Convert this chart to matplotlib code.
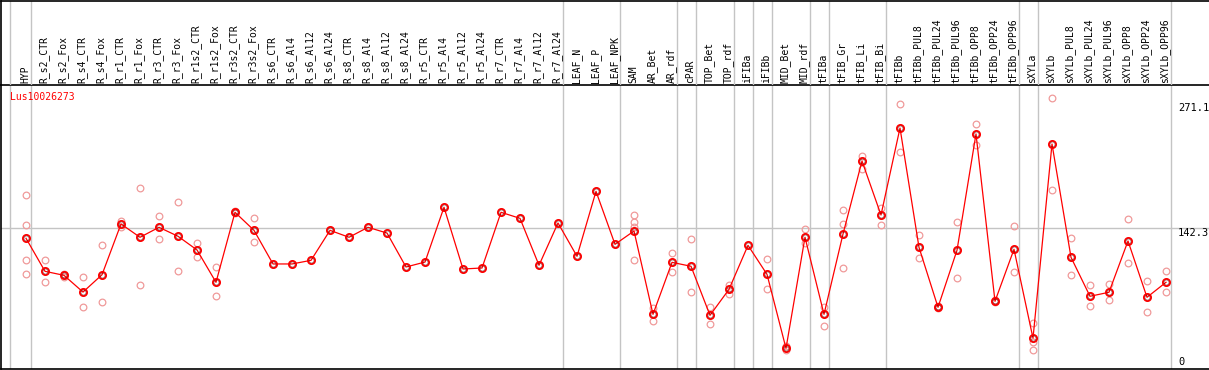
import numpy as np
import matplotlib
matplotlib.use("Agg")
import matplotlib.pyplot as plt
import matplotlib.transforms as mtransforms

# ---- data -------------------------------------------------------------
GENE = "Lus10026273"

SAMPLES = [
    "HYP", "R_s2_CTR", "R_s2_Fox", "R_s4_CTR", "R_s4_Fox", "R_r1_CTR", "R_r1_Fox",
    "R_r3_CTR", "R_r3_Fox", "R_r1s2_CTR", "R_r1s2_Fox", "R_r3s2_CTR", "R_r3s2_Fox",
    "R_s6_CTR", "R_s6_Al4", "R_s6_Al12", "R_s6_Al24", "R_s8_CTR", "R_s8_Al4",
    "R_s8_Al12", "R_s8_Al24", "R_r5_CTR", "R_r5_Al4", "R_r5_Al12", "R_r5_Al24",
    "R_r7_CTR", "R_r7_Al4", "R_r7_Al12", "R_r7_Al24", "LEAF_N", "LEAF_P", "LEAF_NPK",
    "SAM", "AR_Bet", "AR_rdf", "cPAR", "TOP_Bet", "TOP_rdf", "iFIBa", "iFIBb",
    "MID_Bet", "MID_rdf", "tFIBa", "tFIB_Gr", "tFIB_Li", "tFIB_Bi", "tFIBb",
    "tFIBb_PUL8", "tFIBb_PUL24", "tFIBb_PUL96", "tFIBb_OPP8", "tFIBb_OPP24",
    "tFIBb_OPP96", "sXYLa", "sXYLb", "sXYLb_PUL8", "sXYLb_PUL24", "sXYLb_PUL96",
    "sXYLb_OPP8", "sXYLb_OPP24", "sXYLb_OPP96",
]

MEANS = [
    132.1, 99.3, 95.3, 78.7, 95.9, 146.3, 133.1, 143.0, 134.1, 120.5, 88.4, 157.9, 140.0,
    106.6, 106.6, 110.2, 140.0, 133.1, 143.0, 137.3, 103.6, 108.5, 162.9, 101.6, 102.6,
    157.9, 151.9, 105.3, 147.3, 114.2, 178.7, 126.1,
    139.3, 56.6, 108.2, 104.3, 55.6, 81.4, 125.1, 96.3, 22.8, 133.1, 56.6, 136.3,
    208.8, 155.2, 241.6, 123.1, 63.6, 120.2, 235.7, 69.5, 121.2, 32.8, 225.7,
    113.2, 74.5, 78.5, 129.4, 73.5, 88.4,
]

REPS = [
    [174.8, 145.0, 110.2, 96.3], [110.2, 88.4], [96.6, 93.6], [93.3, 63.6],
    [125.1, 68.5], [149.0, 143.6], [181.7, 85.4], [154.2, 131.1], [167.8, 99.3],
    [127.4, 113.8], [103.3, 74.8], [159.5, 156.9], [151.9, 128.1],
    [], [], [], [], [], [], [], [], [], [], [], [], [], [], [], [], [], [], [],
    [155.2, 148.0, 143.6, 110.5], [63.2, 49.7], [117.5, 98.6], [131.1, 78.7],
    [64.2, 47.3], [86.0, 76.5], [], [111.5, 81.7], [25.1, 21.2], [141.0, 127.1],
    [63.6, 45.0], [159.9, 146.0, 102.3], [213.8, 200.6], [161.9, 144.8],
    [265.4, 217.5], [135.4, 112.2], [62.6, 64.6], [148.0, 92.4], [245.3, 224.7],
    [68.5, 70.5], [144.3, 98.3], [47.7, 29.4, 20.9], [271.1, 179.7],
    [132.1, 95.6], [85.4, 64.5], [86.4, 70.5], [150.9, 107.5], [89.4, 58.6],
    [99.3, 78.5],
]

# last sample of each tissue group (separator drawn just after it)
GROUP_ENDS = [0, 28, 31, 34, 35, 37, 38, 39, 41, 42, 45, 52, 53, 60]

Y_TICKS = [0, 142.3, 271.1]
Y_TICK_LABELS = ["0", "142.3", "271.1"]

# ---- layout (pixels of a 1209x370 canvas) -----------------------------
W, H = 1209, 370
X0, PITCH = 26, 19          # x of first sample, spacing
HEAD_BOT = 85
PLOT_BOT = 368.7
PLOT_LEFT = 1
MONO = "DejaVu Sans Mono"
GRID = "#c4c4c4"

fig = plt.figure(figsize=(W / 100, H / 100), dpi=100)

ax = fig.add_axes([PLOT_LEFT / W, (H - PLOT_BOT) / H,
                   (W - PLOT_LEFT) / W, (PLOT_BOT - HEAD_BOT) / H])
hd = fig.add_axes([PLOT_LEFT / W, (H - HEAD_BOT) / H,
                   (W - PLOT_LEFT) / W, (HEAD_BOT - 0.5) / H], sharex=ax)

x = np.arange(len(SAMPLES))
ax.set_xlim((PLOT_LEFT - X0) / PITCH, (W - X0) / PITCH)
ax.set_ylim(2.6, 284.3)
hd.set_ylim(0, 1)

# separators
seps = [-0.82] + [g + 0.237 for g in GROUP_ENDS]
for s in seps:
    ax.axvline(s, color=GRID, lw=1.0, zorder=1)
    hd.axvline(s, color=GRID, lw=1.0, zorder=1)
ax.axhline(Y_TICKS[1], color=GRID, lw=1.0, zorder=1)

# replicates
rx = [i for i, r in enumerate(REPS) for _ in r]
ry = [v for r in REPS for v in r]
ax.plot(rx, ry, ls="none", marker="o", ms=4.8, mfc="none",
        mec="#f09a9a", mew=0.9, zorder=2)

# mean profile
ax.plot(x, MEANS, color="red", lw=0.9, zorder=3)
ax.plot(x, MEANS, ls="none", marker="o", ms=5.2, mfc="none",
        mec="red", mew=1.3, zorder=4)
ax.plot(x, MEANS, ls="none", marker="o", ms=3.6, mfc="none",
        mec="#500000", mew=0.5, alpha=0.6, zorder=5)

# header labels
trans = mtransforms.blended_transform_factory(hd.transData, hd.transAxes)
for i, name in enumerate(SAMPLES):
    hd.text(i - 0.05, 0.025, name, rotation=90, ha="center", va="bottom",
            fontsize=7, family=MONO, transform=trans)

ax.text(0.0075, 0.958, GENE, color="red", fontsize=7, family=MONO,
        ha="left", va="center", transform=ax.transAxes)

# right-hand value labels
label_pos = [0.96 / 1.0, 0.0, 0.0]
tick_y = {"271.1": 108, "142.3": 232.7, "0": 361.7}
for lab in Y_TICK_LABELS:
    py = tick_y[lab]
    ax.text((1178 - PLOT_LEFT) / (W - PLOT_LEFT), (PLOT_BOT - py) / (PLOT_BOT - HEAD_BOT),
            lab, fontsize=7.5, family=MONO, ha="left", va="center",
            transform=ax.transAxes)

for a in (ax, hd):
    a.set_xticks([])
    a.set_yticks([])
    a.spines["right"].set_visible(False)
    for sp in ("left", "top", "bottom"):
        a.spines[sp].set_color("black")
        a.spines[sp].set_linewidth(1.2)
hd.spines["bottom"].set_visible(False)
hd.patch.set_alpha(0)

fig.savefig("out.png", dpi=100)
